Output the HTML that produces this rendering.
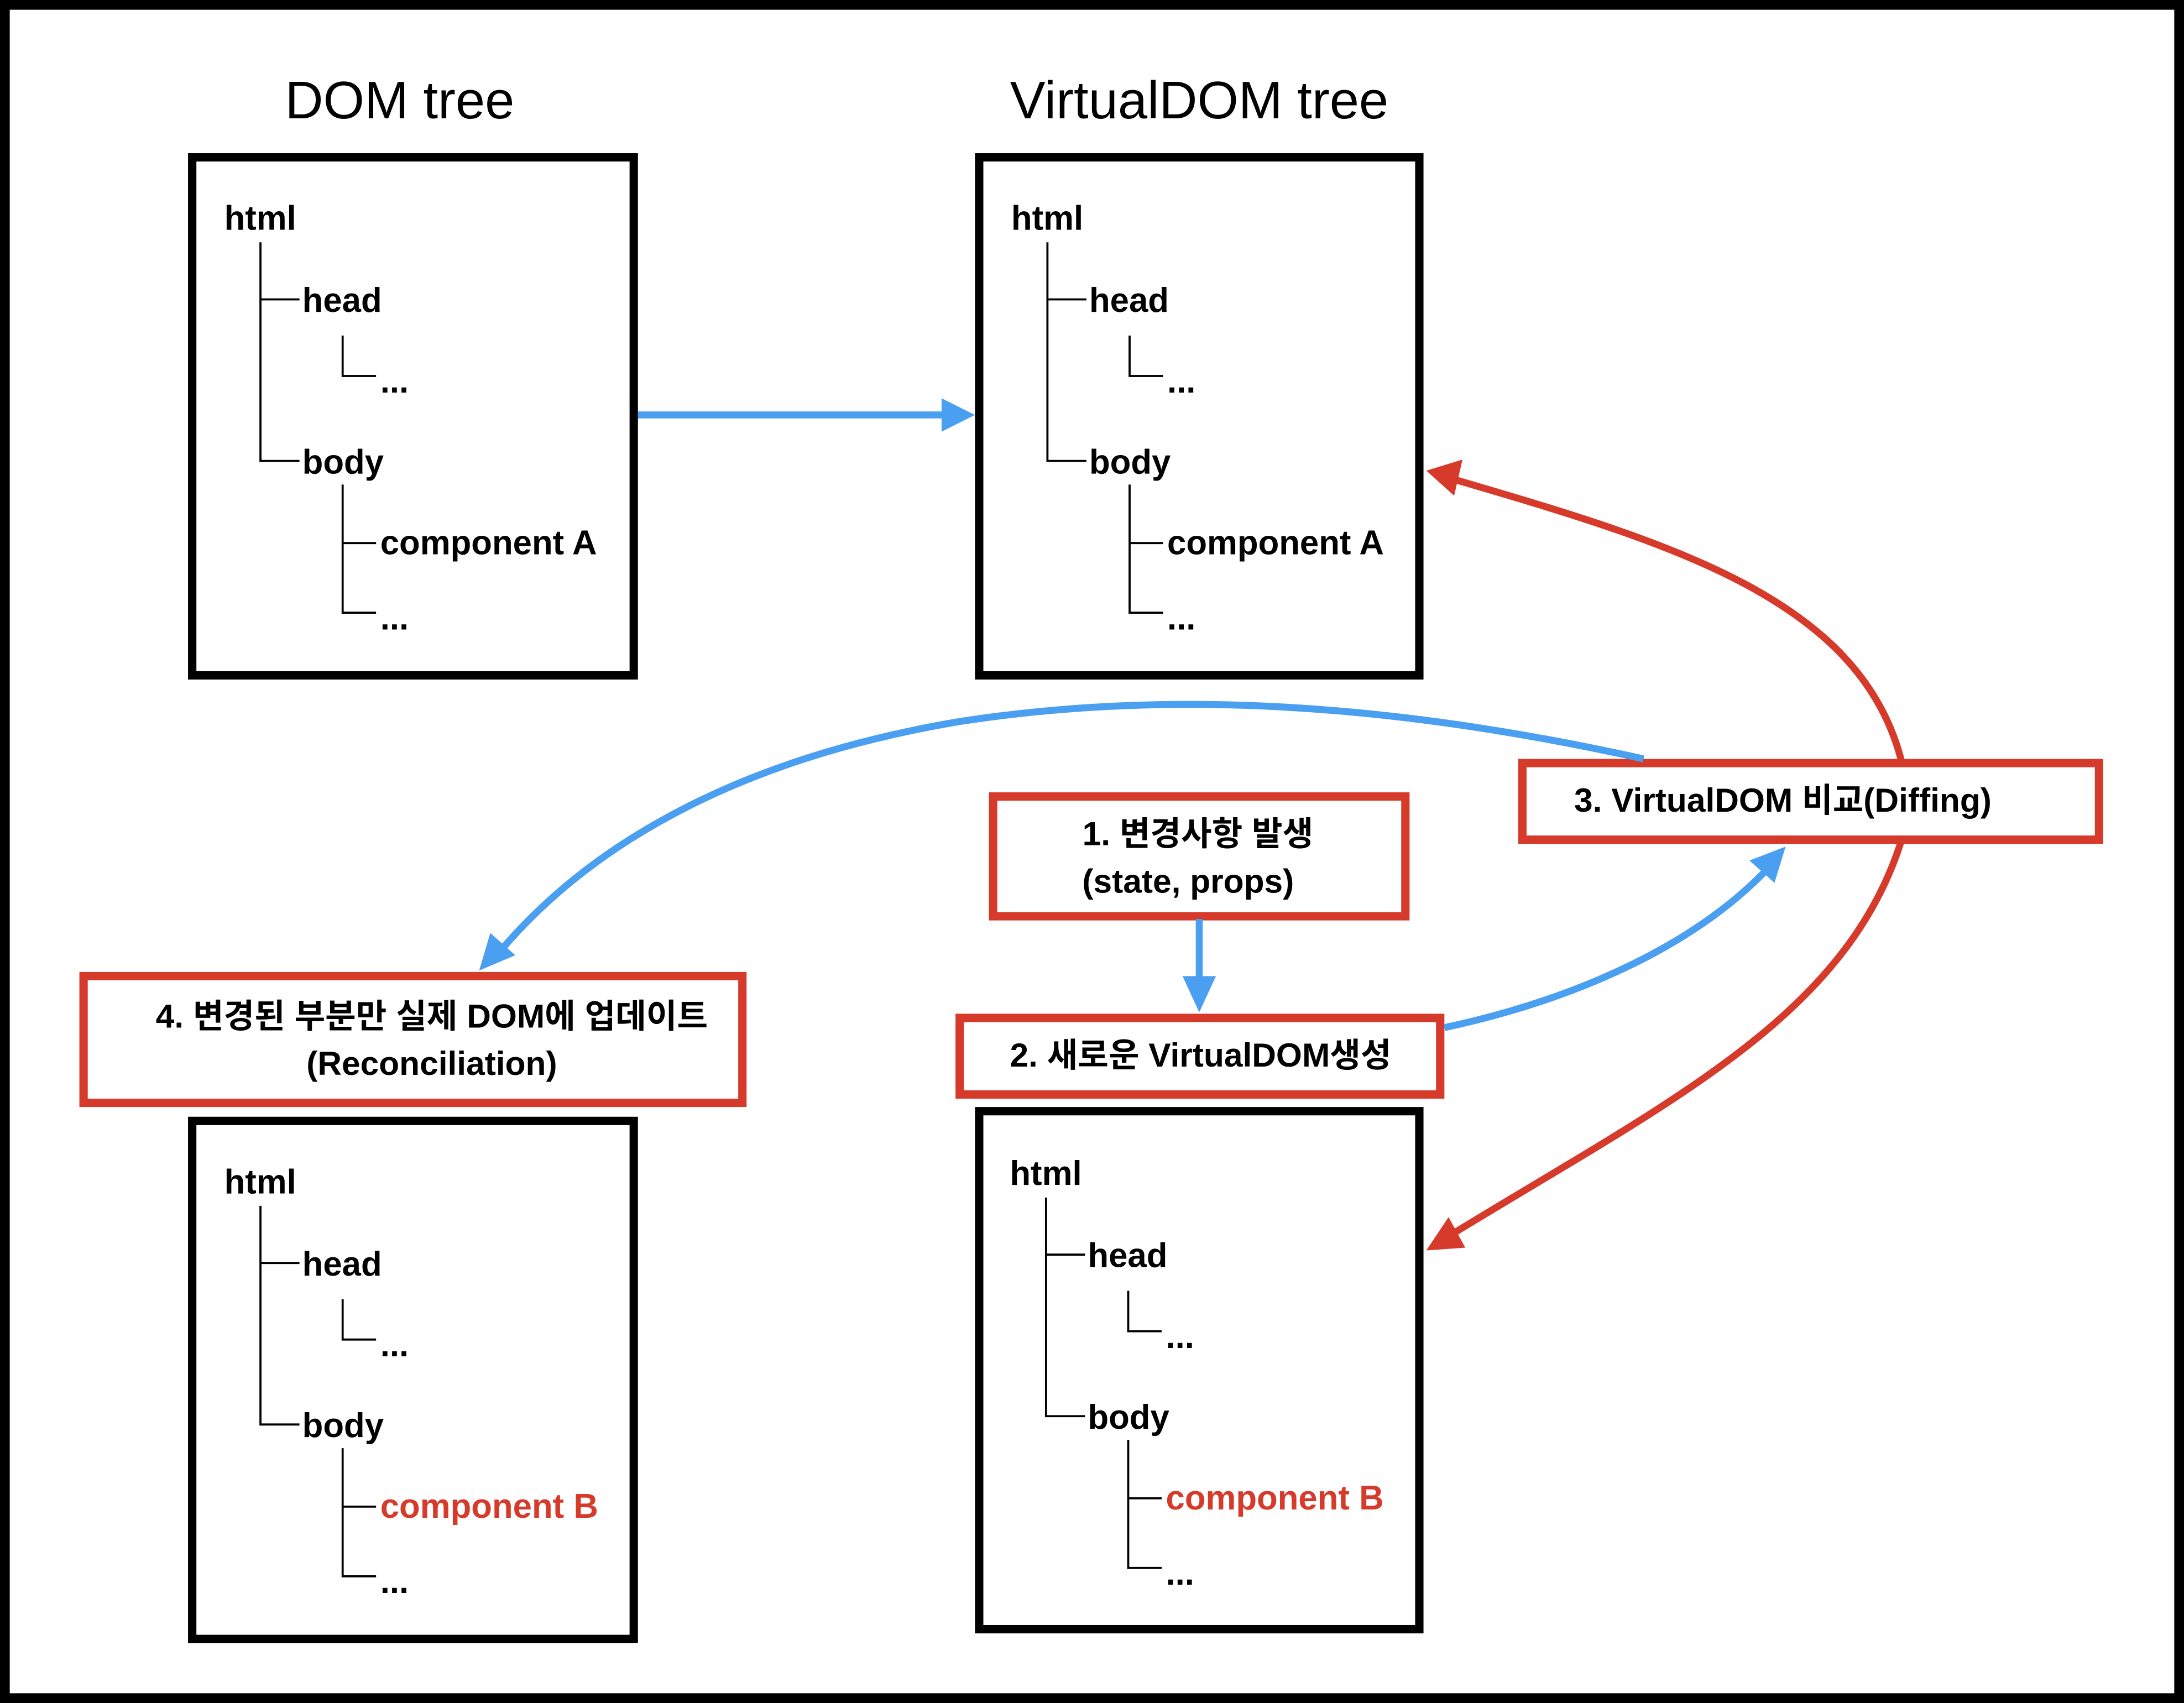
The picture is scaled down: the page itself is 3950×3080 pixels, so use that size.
<!DOCTYPE html>
<html><head><meta charset="utf-8"><style>
html,body{margin:0;padding:0;background:#fff;}
svg{display:block;}
text{font-family:"Liberation Sans","Noto Sans CJK KR",sans-serif;}
</style></head><body>
<svg width="3950" height="3080" viewBox="0 0 1568 1223" preserveAspectRatio="none" xmlns="http://www.w3.org/2000/svg">
<rect x="3.5" y="3.5" width="1561" height="1216" fill="#fff" stroke="#000" stroke-width="7"/>
<text x="287" y="85" font-size="38" text-anchor="middle">DOM tree</text>
<text x="861" y="85" font-size="38" text-anchor="middle">VirtualDOM tree</text>

<g fill="none" stroke="#000" stroke-width="6">
<rect x="138" y="113" width="317" height="372"/>
<rect x="703" y="113" width="316" height="372"/>
<rect x="138" y="805" width="317" height="372"/>
<rect x="703" y="798" width="316" height="372"/>
</g>

<g font-size="24.5" font-weight="bold">
<g>
<g fill="none" stroke="#000" stroke-width="1.5"><path d="M187 174V331H215M187 215H215M246 241V270H270M246 348V440H270M246 390H270"/></g>
<text x="161" y="165">html</text><text x="217" y="224">head</text><text x="273" y="282">...</text><text x="217" y="340">body</text><text x="273" y="398">component A</text><text x="273" y="452">...</text>
</g>
<g transform="translate(565,0)">
<g fill="none" stroke="#000" stroke-width="1.5"><path d="M187 174V331H215M187 215H215M246 241V270H270M246 348V440H270M246 390H270"/></g>
<text x="161" y="165">html</text><text x="217" y="224">head</text><text x="273" y="282">...</text><text x="217" y="340">body</text><text x="273" y="398">component A</text><text x="273" y="452">...</text>
</g>
<g transform="translate(0,692)">
<g fill="none" stroke="#000" stroke-width="1.5"><path d="M187 174V331H215M187 215H215M246 241V270H270M246 348V440H270M246 390H270"/></g>
<text x="161" y="165">html</text><text x="217" y="224">head</text><text x="273" y="282">...</text><text x="217" y="340">body</text><text x="273" y="398" fill="#d63a2a">component B</text><text x="273" y="452">...</text>
</g>
<g transform="translate(564,686)">
<g fill="none" stroke="#000" stroke-width="1.5"><path d="M187 174V331H215M187 215H215M246 241V270H270M246 348V440H270M246 390H270"/></g>
<text x="161" y="165">html</text><text x="217" y="224">head</text><text x="273" y="282">...</text><text x="217" y="340">body</text><text x="273" y="398" fill="#d63a2a">component B</text><text x="273" y="452">...</text>
</g>
</g>

<g fill="#fff" stroke="#d63a2a" stroke-width="6">
<rect x="713" y="572" width="296" height="86"/>
<rect x="689" y="731" width="345" height="55"/>
<rect x="1093" y="548" width="414" height="55"/>
<rect x="60" y="701" width="473" height="91"/>
</g>
<g font-size="24" font-weight="bold" text-anchor="middle">
<text x="860" y="607">1. 변경사항 발생</text>
<text x="853" y="641">(state, props)</text>
<text x="862" y="766">2. 새로운 VirtualDOM생성</text>
<text x="1280" y="583">3. VirtualDOM 비교(Diffing)</text>
<text x="310" y="738">4. 변경된 부분만 실제 DOM에 업데이트</text>
<text x="310" y="772">(Reconciliation)</text>
</g>

<g fill="none" stroke="#4a9ff0" stroke-width="5">
<path d="M458 298H680"/>
<path d="M861 660V705"/>
<path d="M1037 738C1130 718 1215 680 1268 625"/>
<path d="M1180 545C1000 505 840 495 690 518C540 543 430 600 360 682"/>
</g>
<g fill="#4a9ff0">
<polygon points="700,298 676,286 676,310"/>
<polygon points="861,727 849,701 873,701"/>
<polygon points="1282,608 1256,618 1274,634"/>
<polygon points="344,697 352,670 370,686"/>
</g>

<g fill="none" stroke="#d63a2a" stroke-width="5">
<path d="M1365 546C1335 430 1200 390 1043 344"/>
<path d="M1365 604C1325 730 1200 790 1043 886"/>
</g>
<g fill="#d63a2a">
<polygon points="1024,338 1050,330 1044,356"/>
<polygon points="1024,898 1040,874 1052,896"/>
</g>
</svg>
</body></html>
